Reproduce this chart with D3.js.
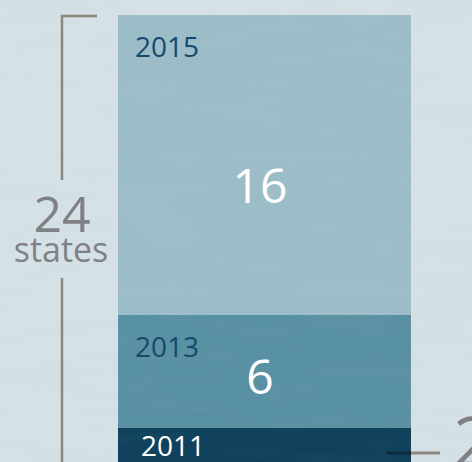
<!DOCTYPE html>
<html><head><meta charset="utf-8">
<script src="https://cdn.jsdelivr.net/npm/d3@7"></script>
<style>html,body{margin:0;padding:0;background:#d4e1e6;overflow:hidden}</style>
</head><body>
<script>
const years = ["2011", "2013", "2015"];
const values = [2, 6, 16];
const totalLabel = "24";
const unitLabel = "states";
const sideLabel = "2";

const W = 472, H = 462;
const svg = d3.select("body").append("svg").attr("width", W).attr("height", H)
  .style("font-family", "'Open Sans', sans-serif");

// textured background
const defs = svg.append("defs");
const f = defs.append("filter").attr("id", "tex").attr("x", 0).attr("y", 0).attr("width", "100%").attr("height", "100%");
f.append("feTurbulence").attr("type", "fractalNoise").attr("baseFrequency", "0.01 0.06").attr("numOctaves", 3).attr("seed", 4).attr("result", "n");
f.append("feColorMatrix").attr("in", "n").attr("type", "matrix")
  .attr("values", "0 0 0 0 1  0 0 0 0 1  0 0 0 0 1  0 0 0 0.5 -0.2").attr("result", "a");
f.append("feComposite").attr("in", "a").attr("in2", "SourceGraphic").attr("operator", "in");

svg.append("rect").attr("width", W).attr("height", H).attr("fill", "#d3e0e5");
svg.append("rect").attr("width", W).attr("height", H).attr("fill", "#fff").attr("filter", "url(#tex)").attr("opacity", 0.35);

const total = d3.sum(values);
const y = d3.scaleLinear().domain([0, total]).range([465, 15]);
const x = d3.scaleBand().domain(["bar"]).range([118, 411]).padding(0);

const stack = [];
let acc = 0;
years.forEach((yr, i) => { stack.push({ year: yr, v: values[i], y0: acc, y1: acc + values[i] }); acc += values[i]; });

const colors = { "2015": "#9cbcc8", "2013": "#5891a3", "2011": "#0f415c" };
const yearColor = { "2015": "#154a6c", "2013": "#154a6c", "2011": "#ffffff" };

const g = svg.append("g");
g.selectAll("rect.seg").data(stack).join("rect").attr("class", "seg")
  .attr("x", x("bar")).attr("width", x.bandwidth())
  .attr("y", d => y(d.y1)).attr("height", d => y(d.y0) - y(d.y1))
  .attr("fill", d => colors[d.year]);

// subtle texture on bars
g.selectAll("rect.tex").data(stack).join("rect").attr("class", "tex")
  .attr("x", x("bar")).attr("width", x.bandwidth())
  .attr("y", d => y(d.y1)).attr("height", d => y(d.y0) - y(d.y1))
  .attr("fill", "#fff").attr("filter", "url(#tex)").attr("opacity", 0.12);

// year labels
g.selectAll("text.yr").data(stack).join("text").attr("class", "yr")
  .attr("x", d => d.year === "2011" ? x("bar") + 23 : x("bar") + 17)
  .attr("y", d => d.year === "2011" ? y(d.y1) + 28 : y(d.y1) + 42)
  .attr("font-size", 28).attr("fill", d => yearColor[d.year])
  .text(d => d.year);

// value labels
g.selectAll("text.val").data(stack.filter(d => d.v > 2)).join("text").attr("class", "val")
  .attr("x", x("bar") + 142).attr("text-anchor", "middle")
  .attr("y", d => d.year === "2015" ? y(d.y1) + 188 : y(d.y1) + 79)
  .attr("font-size", 48).attr("fill", "#fff")
  .text(d => d.v);

// left bracket
const gray = "#8a887e";
const bx = 62;
svg.append("path").attr("d", `M${bx},${y(total) + 165} V${y(total) + 1} H97`)
  .attr("fill", "none").attr("stroke", gray).attr("stroke-width", 2.5);
svg.append("path").attr("d", `M${bx},278 V${H}`)
  .attr("fill", "none").attr("stroke", gray).attr("stroke-width", 2.5);
svg.append("text").attr("x", bx).attr("y", 232).attr("text-anchor", "middle")
  .attr("font-size", 50).attr("fill", "#808184").text(totalLabel);
svg.append("text").attr("x", bx - 1).attr("y", 262).attr("text-anchor", "middle")
  .attr("font-size", 34).attr("fill", "#808184").text(unitLabel);

// right pointer for 2011
const ly = 453;
svg.append("line").attr("x1", 386).attr("x2", 411).attr("y1", ly).attr("y2", ly)
  .attr("stroke", "#0a2e40").attr("stroke-width", 3);
svg.append("line").attr("x1", 411).attr("x2", 440).attr("y1", ly).attr("y2", ly)
  .attr("stroke", gray).attr("stroke-width", 3);
svg.append("text").attr("x", 453).attr("y", 467).attr("font-size", 70).attr("fill", "#808184").text(sideLabel);
</script>
</body></html>
